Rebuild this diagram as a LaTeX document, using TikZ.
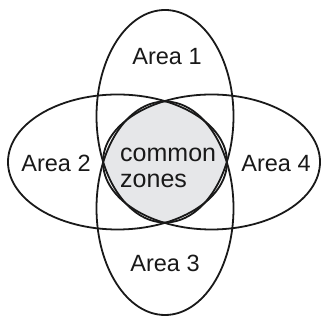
\documentclass[tikz,border=0pt]{standalone}
\usepackage{fontspec}
\setmainfont{Liberation Sans}
\begin{document}
\begin{tikzpicture}[x=1pt,y=1pt,
  outline/.style={line width=1.8pt,draw=black!90},
  lbl/.style={anchor=base,inner sep=0pt,font=\fontsize{23.5}{26}\selectfont,text=black!90},
  ctr/.style={anchor=base west,inner sep=0pt,font=\fontsize{25}{26}\selectfont,text=black!90}]
\useasboundingbox (0,0) rectangle (321,320);
% common zone fill: intersection of the four ellipses
\begin{scope}
  \clip (165,203.75) ellipse [x radius=68.5,y radius=106.25];
  \clip (165,111.75) ellipse [x radius=68.5,y radius=106.75];
  \clip (117.5,158) ellipse [x radius=109.5,y radius=67.5];
  \clip (211.5,158) ellipse [x radius=108.5,y radius=67.5];
  \fill[fill={rgb,255:red,230;green,231;blue,233}] (0,0) rectangle (321,320);
\end{scope}
% ellipses
\draw[outline] (165,203.75) ellipse [x radius=68.5,y radius=106.25];
\draw[outline] (165,111.75) ellipse [x radius=68.5,y radius=106.75];
\draw[outline] (117.5,158) ellipse [x radius=109.5,y radius=67.5];
\draw[outline] (211.5,158) ellipse [x radius=108.5,y radius=67.5];
% labels
\node[lbl] (a1) at (167,255) {Area 1};
\node[lbl] (a2) at (56,148) {Area 2};
\node[lbl] (a4) at (276,148) {Area 4};
\node[lbl] (a3) at (165,48) {Area 3};
\node[ctr] (c1) at (120,158) {common};
\node[ctr] (c2) at (120,132) {zones};
\end{tikzpicture}
\end{document}
